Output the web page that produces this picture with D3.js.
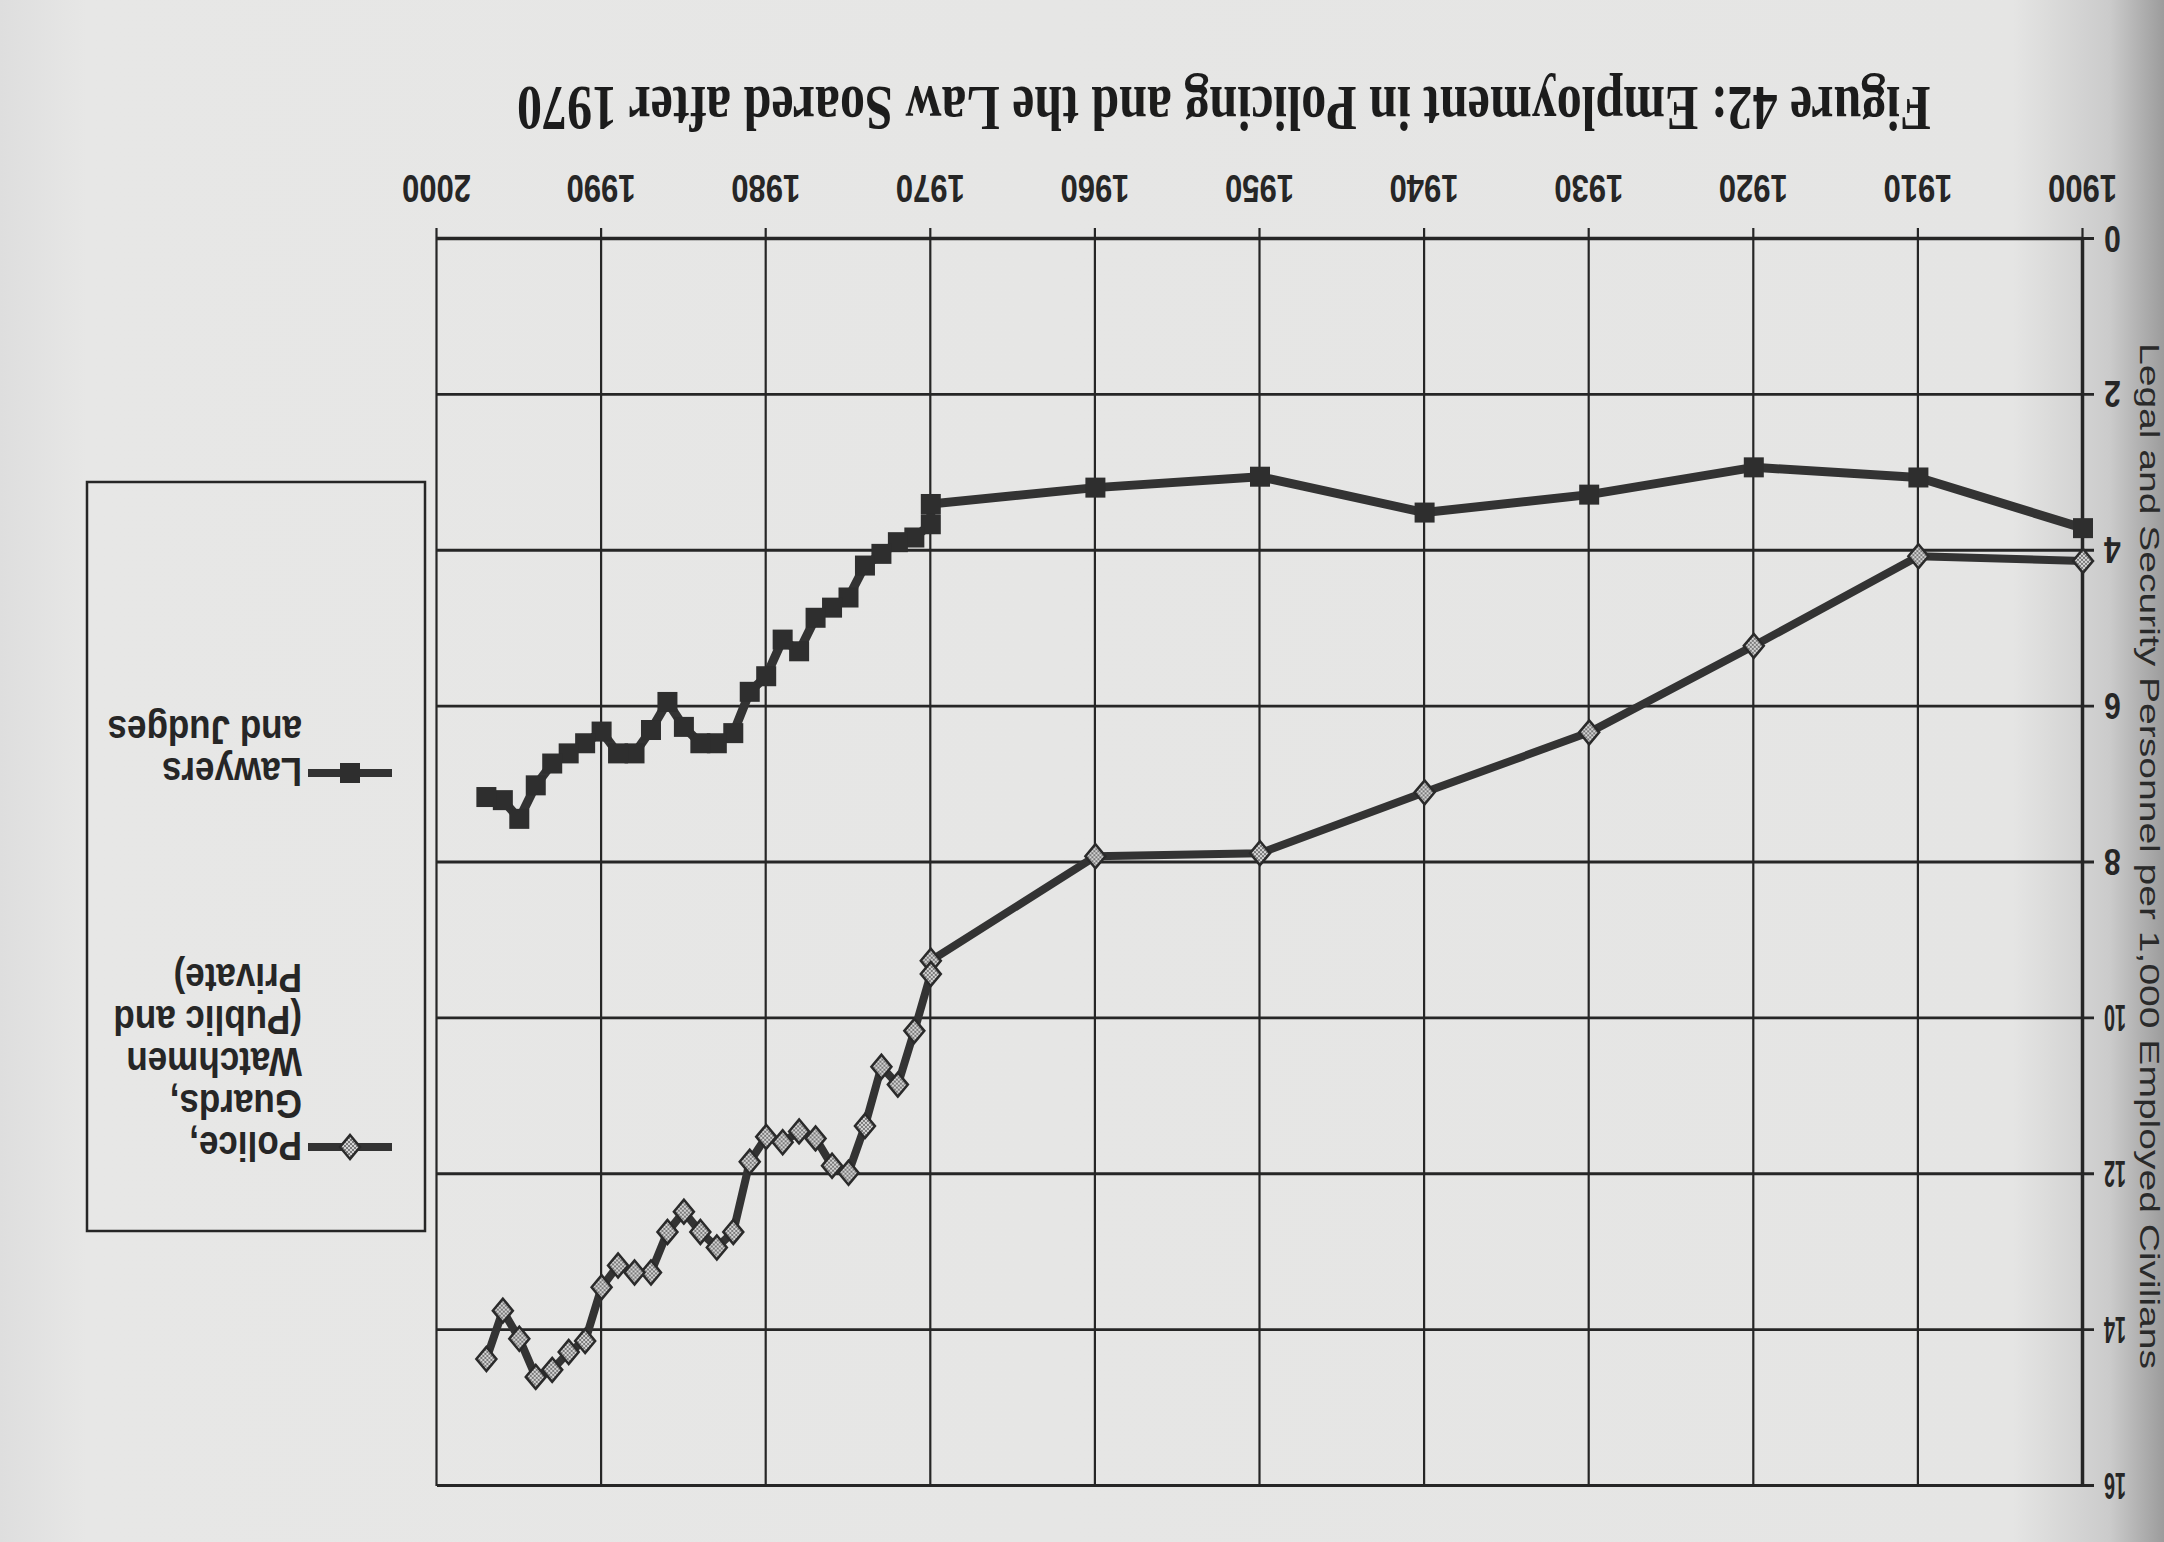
<!DOCTYPE html>
<html>
<head>
<meta charset="utf-8">
<script src="https://cdn.jsdelivr.net/npm/d3@7"></script>
<style>
body { margin: 0; background: #e4e4e2; }
svg { display: block; }
</style>
</head>
<body>
<svg width="2164" height="1542"></svg>
<script>
// decade census points up to 1970, then yearly figures 1970-1997
var years = [1900, 1910, 1920, 1930, 1940, 1950, 1960, 1970,
	1970, 1971, 1972, 1973, 1974, 1975, 1976, 1977, 1978, 1979,
	1980, 1981, 1982, 1983, 1984, 1985, 1986, 1987, 1988, 1989,
	1990, 1991, 1992, 1993, 1994, 1995, 1996, 1997];

var lawyers = [3.71, 3.06, 2.93, 3.28, 3.51, 3.05, 3.19, 3.40,
	3.66, 3.83, 3.89, 4.04, 4.19, 4.60, 4.73, 4.86, 5.29, 5.14,
	5.61, 5.81, 6.34, 6.47, 6.47, 6.26, 5.94, 6.30, 6.60, 6.60,
	6.32, 6.47, 6.60, 6.73, 7.01, 7.44, 7.20, 7.16];

var police = [4.13, 4.07, 5.22, 6.33, 7.10, 7.88, 7.92, 9.26,
	9.43, 10.16, 10.85, 10.62, 11.38, 11.98, 11.89, 11.54, 11.45, 11.59,
	11.52, 11.84, 12.74, 12.94, 12.74, 12.48, 12.74, 13.26, 13.26, 13.17,
	13.45, 14.14, 14.28, 14.51, 14.60, 14.11, 13.75, 14.37];

var decades = d3.range(1900, 2001, 10);
var valueTicks = d3.range(0, 17, 2);

var title = "Figure 42: Employment in Policing and the Law Soared after 1970";
var yTitle = "Legal and Security Personnel per 1,000 Employed Civilians";
var policeLabel = ["Police,", "Guards,", "Watchmen", "(Public and", "Private)"];
var lawyerLabel = ["Lawyers", "and Judges"];

var ink = "#262626";
var sans = "'Liberation Sans', Arial, sans-serif";
var serif = "'Liberation Serif', 'Times New Roman', serif";

var svg = d3.select("svg");
var W = +svg.attr("width");
var H = +svg.attr("height");

var defs = svg.append("defs");
var grad = defs.append("linearGradient").attr("id", "paper");
grad.append("stop").attr("offset", "0%").attr("stop-color", "#dedede");
grad.append("stop").attr("offset", "4%").attr("stop-color", "#e7e7e6");
grad.append("stop").attr("offset", "93%").attr("stop-color", "#e5e5e4");
grad.append("stop").attr("offset", "97.5%").attr("stop-color", "#cbcbcb");
grad.append("stop").attr("offset", "100%").attr("stop-color", "#9c9c9c");

var pat = defs.append("pattern").attr("id", "checker")
	.attr("width", 4).attr("height", 4).attr("patternUnits", "userSpaceOnUse");
pat.append("rect").attr("width", 4).attr("height", 4).attr("fill", "#d4d4d4");
pat.append("rect").attr("width", 2).attr("height", 2).attr("fill", "#7a7a7a");
pat.append("rect").attr("x", 2).attr("y", 2).attr("width", 2).attr("height", 2).attr("fill", "#7a7a7a");

svg.append("rect").attr("width", W).attr("height", H).attr("fill", "url(#paper)");

// the scanned page is upside down: draw normally, then turn it round
var g = svg.append("g").attr("transform", "rotate(180," + W / 2 + "," + H / 2 + ")");

var x = d3.scaleLinear().domain([1900, 2000]).range([81, 1727]);
var y = d3.scaleLinear().domain([0, 16]).range([1303, 56]);

var xAxis = g.append("g")
	.attr("transform", "translate(0," + y(0) + ")")
	.call(d3.axisBottom(x).tickValues(decades).tickFormat(d3.format("d")).tickSize(11).tickSizeOuter(0));
xAxis.select(".domain").attr("stroke", ink).attr("stroke-width", 3.5);
xAxis.selectAll(".tick line")
	.attr("y1", y(16) - y(0))
	.attr("stroke", ink).attr("stroke-width", 2.2);
xAxis.selectAll(".tick text")
	.attr("y", 0).attr("dy", "0.36em")
	.attr("transform", "translate(0,50) scale(1,1.28)")
	.attr("font-family", sans).attr("font-size", 31).attr("font-weight", "bold")
	.attr("fill", ink);

var yAxis = g.append("g")
	.attr("transform", "translate(" + x(1900) + ",0)")
	.call(d3.axisLeft(y).tickValues(valueTicks).tickSize(11).tickSizeOuter(0));
yAxis.select(".domain").attr("stroke", ink).attr("stroke-width", 3.5);
yAxis.selectAll(".tick line")
	.attr("x1", x(2000) - x(1900))
	.attr("stroke", ink).attr("stroke-width", 2.8);
yAxis.selectAll(".tick text")
	.attr("x", 0).attr("dy", "0.36em")
	.attr("transform", "translate(-21,0) scale(1,1.2)")
	.attr("font-family", sans).attr("font-size", 30).attr("font-weight", "bold")
	.attr("fill", ink)
	// the two digit labels are set tight in the scan
	.attr("textLength", function(d) { return d >= 10 ? 22 : null; })
	.attr("lengthAdjust", "spacingAndGlyphs");

var pts = years.map(function(yr, i) {
	return { year: yr, lawyers: lawyers[i], police: police[i] };
});

function lineFor(key) {
	return d3.line()
		.x(function(d) { return x(d.year); })
		.y(function(d) { return y(d[key]); });
}

g.append("path").datum(pts)
	.attr("d", lineFor("police"))
	.attr("fill", "none").attr("stroke", "#333").attr("stroke-width", 8)
	.attr("stroke-linejoin", "round");

g.append("path").datum(pts)
	.attr("d", lineFor("lawyers"))
	.attr("fill", "none").attr("stroke", "#333").attr("stroke-width", 9)
	.attr("stroke-linejoin", "round");

var diamond = "M0,-12L10,0L0,12L-10,0Z";

g.append("g").selectAll("path")
	.data(pts)
	.enter().append("path")
		.attr("d", diamond)
		.attr("transform", function(d) { return "translate(" + x(d.year) + "," + y(d.police) + ")"; })
		.attr("fill", "url(#checker)").attr("stroke", "#2a2a2a").attr("stroke-width", 2.5);

g.append("g").selectAll("rect")
	.data(pts)
	.enter().append("rect")
		.attr("x", function(d) { return x(d.year) - 10; })
		.attr("y", function(d) { return y(d.lawyers) - 10; })
		.attr("width", 20).attr("height", 20)
		.attr("fill", "#2e2e2e");

// legend
var lg = g.append("g");
lg.append("rect")
	.attr("x", 1739).attr("y", 311).attr("width", 338).attr("height", 749)
	.attr("fill", "none").attr("stroke", ink).attr("stroke-width", 2.5);

function legendEntry(top, lines, marker) {
	lg.append("line")
		.attr("x1", 1772).attr("x2", 1856).attr("y1", top).attr("y2", top)
		.attr("stroke", "#333").attr("stroke-width", 8);
	if (marker == "diamond") {
		lg.append("path").attr("d", diamond)
			.attr("transform", "translate(1814," + top + ")")
			.attr("fill", "url(#checker)").attr("stroke", "#2a2a2a").attr("stroke-width", 2.5);
	} else {
		lg.append("rect").attr("x", 1804).attr("y", top - 10)
			.attr("width", 20).attr("height", 20).attr("fill", "#2e2e2e");
	}
	lg.selectAll(null)
		.data(lines)
		.enter().append("text")
			.attr("transform", function(d, i) { return "translate(1862," + (top + i * 42) + ") scale(1,1.18)"; })
			.attr("dy", "0.36em")
			.attr("font-family", sans).attr("font-size", 35).attr("font-weight", "bold")
			.attr("fill", ink)
			.text(function(d) { return d; });
}
legendEntry(395, policeLabel, "diamond");
legendEntry(769, lawyerLabel, "square");

// titles
g.append("text")
	.attr("transform", "translate(1647,1455) scale(1,1.27)")
	.attr("text-anchor", "end")
	.attr("font-family", serif).attr("font-size", 50).attr("font-weight", "bold")
	.attr("fill", "#1c1c1c")
	.text(title);

g.append("text")
	.attr("transform", "translate(24,686) rotate(-90)")
	.attr("text-anchor", "middle")
	.attr("textLength", 1026).attr("lengthAdjust", "spacingAndGlyphs")
	.attr("font-family", sans).attr("font-size", 28)
	.attr("fill", "#2a2a2a")
	.text(yTitle);
</script>
</body>
</html>
